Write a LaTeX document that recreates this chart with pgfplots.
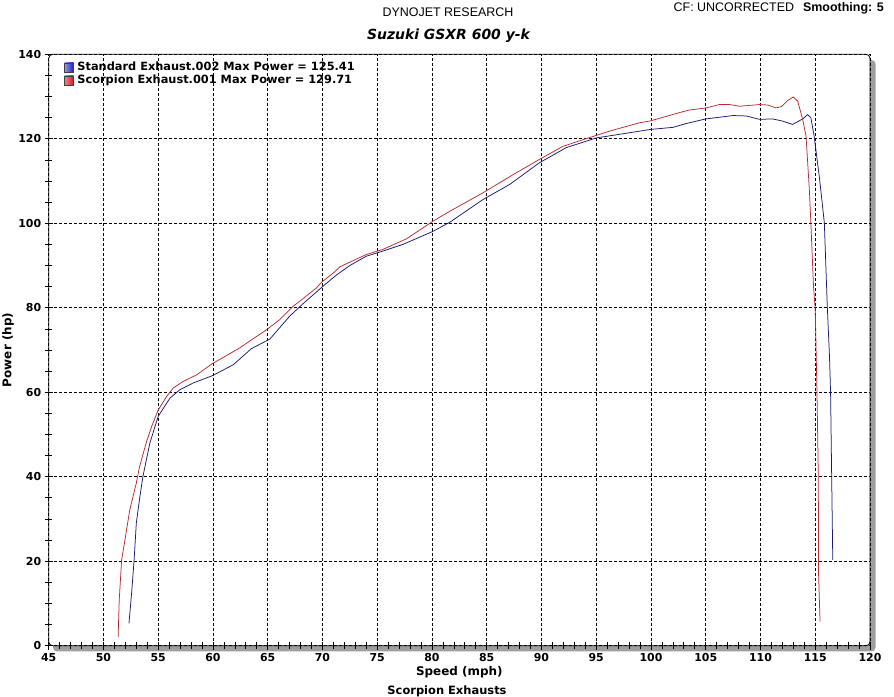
\documentclass[border=0pt]{standalone}
\usepackage{fontspec}
\setmainfont{DejaVu Sans}
\newfontfamily\arialfont{Liberation Sans}
\usepackage{pgfplots}
\pgfplotsset{compat=1.18}
\definecolor{redline}{RGB}{190,40,50}
\definecolor{blueline}{RGB}{25,25,115}
\definecolor{shadowgray}{RGB}{158,158,158}
\definecolor{bluelight}{RGB}{150,150,240}
\definecolor{bluedark}{RGB}{30,30,185}
\definecolor{redlight}{RGB}{245,130,130}
\definecolor{reddark}{RGB}{205,30,35}
\begin{document}
\begin{tikzpicture}
\useasboundingbox (0bp,0bp) rectangle (894bp,697bp);
% drop shadow and plot background
\fill[shadowgray, rounded corners=4bp] (53bp,45.5bp) rectangle (875.5bp,637bp);
\fill[white, rounded corners=4bp] (48.7bp,51.3bp) rectangle (870bp,642.7bp);
% titles
\node[font=\arialfont\fontsize{12.5}{14}\selectfont] at (448bp,685bp) {DYNOJET RESEARCH};
\node[font=\bfseries\itshape\fontsize{14}{16}\selectfont] at (448.5bp,661.5bp) {Suzuki GSXR 600 y-k};
\node[font=\arialfont\fontsize{12.5}{14}\selectfont, anchor=east, inner sep=0pt] at (884bp,688.5bp) {CF: UNCORRECTED\hspace{9bp}{\bfseries Smoothing: 5}};
\node[font=\bfseries\fontsize{11.5}{13}\selectfont] at (447bp,6bp) {Scorpion Exhausts};
\begin{axis}[
  at={(48.7bp,51.3bp)}, anchor=south west,
  scale only axis, width=821.3bp, height=591.4bp,
  xmin=45, xmax=120, ymin=0, ymax=140,
  xtick={45,50,...,120}, ytick={0,20,...,140},
  minor x tick num=4, minor y tick num=3,
  xtick pos=bottom, ytick pos=left,
  tick align=center,
  major tick length=8bp, minor tick length=7bp,
  every tick/.style={black, line width=0.7bp},
  grid=major,
  major grid style={black, dash pattern=on 3bp off 2bp, line width=0.7bp},
  axis line style={draw=none},
  /pgf/number format/assume math mode=true,
  ticklabel style={font=\bfseries\fontsize{11}{13}\selectfont},
  xlabel={Speed (mph)},
  ylabel={Power (hp)},
  label style={font=\bfseries\fontsize{12}{14}\selectfont},
  xlabel style={at={(axis description cs:0.5,-0.0445)}, anchor=center},
  ylabel style={at={(axis description cs:-0.0496,0.5)}, anchor=center},
  legend cell align=left,
  legend style={draw=none, fill=none, at={(axis description cs:0.0186,0.9887)}, anchor=north west,
    inner sep=0pt, row sep=0pt, column sep=3bp, font=\bfseries\fontsize{11.4}{13}\selectfont,
    nodes={inner sep=0.5bp, text height=9bp, text depth=3bp}},
]
\addplot[blueline, line width=0.75bp,
  legend image code/.code={\shade[left color=bluelight, right color=bluedark] (0bp,-4.7bp) rectangle (9bp,4.7bp);
    \draw[black!75, line width=0.5bp] (0bp,-4.7bp) rectangle (9bp,4.7bp);}]
coordinates {
(52.33,5.3) (52.57,12.4) (52.8,20.3) (53.0,29.0) (53.33,35.3) (53.6,40.0) (54.24,48.0)
(55.0,54.3) (56.07,58.6) (56.98,60.6) (58.2,62.2) (59.93,63.9) (61.85,66.5) (63.5,70.3)
(65.2,72.6) (67.0,78.0) (68.2,80.9) (70.05,85.1) (71.3,87.8) (72.5,90.0) (74.0,92.2)
(75.5,93.4) (77.35,95.0) (80.1,98.1) (81.6,100.2) (84.65,105.6) (87.1,109.2) (89.8,114.3)
(92.26,117.9) (95.0,120.2) (98.95,121.8) (99.9,122.2) (102.0,122.7) (103.2,123.6)
(105.0,124.7) (107.5,125.5) (108.7,125.4) (109.9,124.6) (111.1,124.7) (112.0,124.2)
(112.94,123.4) (113.85,124.7) (114.3,125.7) (114.6,125.0) (114.9,120.6) (115.4,110.4)
(115.6,105.6) (115.83,100.1) (116.1,80.3) (116.3,68.5) (116.4,59.8) (116.5,40.0) (116.6,20.3)
};
\addlegendentry{Standard Exhaust.002 Max Power = 125.41}
\addplot[redline, line width=0.75bp,
  legend image code/.code={\shade[left color=redlight, right color=reddark] (0bp,-4.7bp) rectangle (9bp,4.7bp);
    \draw[black!75, line width=0.5bp] (0bp,-4.7bp) rectangle (9bp,4.7bp);}]
coordinates {
(51.34,2.1) (51.44,10.8) (51.66,20.3) (51.96,25.0) (52.4,32.1) (53.0,38.5) (53.3,42.4)
(53.9,48.0) (54.4,51.9) (55.0,55.8) (55.77,59.0) (56.37,61.0) (57.3,62.6) (58.5,64.1)
(59.9,66.7) (62.45,70.5) (63.4,72.2) (64.9,74.8) (66.1,77.2) (67.3,80.3) (67.9,81.5)
(69.45,84.7) (69.9,86.0) (70.97,88.2) (71.6,89.7) (74.0,92.6) (75.5,93.8) (77.66,96.3)
(80.1,100.5) (81.6,102.8) (84.65,107.2) (87.4,111.5) (89.8,115.1) (91.95,118.2)
(93.8,119.8) (95.0,120.8) (96.2,121.8) (98.95,123.8) (99.9,124.2) (102.6,126.2)
(103.5,126.8) (105.0,127.3) (106.25,128.1) (107.2,128.1) (108.1,127.7) (109.9,128.1)
(110.66,128.0) (111.4,127.3) (111.9,127.6) (112.5,129.1) (113.0,129.9) (113.4,128.9)
(113.85,124.6) (114.16,120.6) (114.46,108.0) (114.6,100.1) (114.84,85.1) (115.0,79.5)
(115.16,59.8) (115.28,40.0) (115.3,17.2) (115.44,5.7)
};
\addlegendentry{Scorpion Exhaust.001 Max Power = 129.71}
\end{axis}
\draw[black, line width=0.8bp, rounded corners=4bp] (48.7bp,51.3bp) rectangle (870bp,642.7bp);
\end{tikzpicture}
\end{document}
